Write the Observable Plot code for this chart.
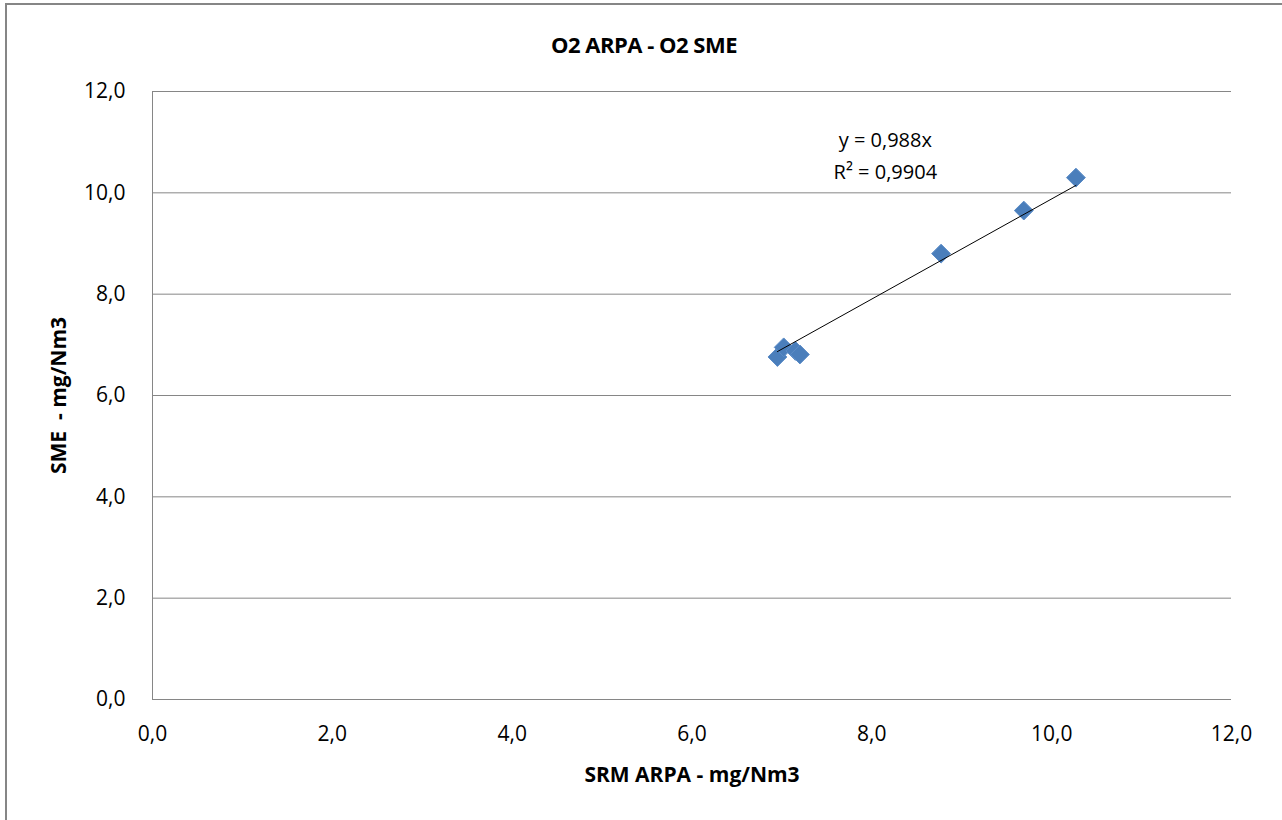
<!DOCTYPE html>
<html>
<head>
<meta charset="utf-8">
<script src="https://cdn.jsdelivr.net/npm/d3@7"></script>
<script src="https://cdn.jsdelivr.net/npm/@observablehq/plot@0.6"></script>
<style>
  html, body { margin: 0; padding: 0; background: #fff; overflow: hidden; }
  #wrap { position: relative; width: 1282px; height: 820px; }
  #frame { position: absolute; left: 5px; top: 3px; width: 1400px; height: 1000px;
           border-left: 2px solid #868686; border-top: 2px solid #868686; box-sizing: border-box; }
  #title { position: absolute; left: 0; width: 1288px; top: 29px; text-align: center;
           font-family: "Open Sans", sans-serif; font-weight: bold; font-size: 22px; letter-spacing: -0.5px; color: #000; }
  #chart { position: absolute; left: 0; top: 0; }
</style>
</head>
<body>
<div id="wrap">
  <div id="frame"></div>
  <div id="chart"></div>
  <div id="title">O2 ARPA - O2 SME</div>
</div>
<script>
const srmArpa = [6.95, 7.02, 7.15, 7.20, 8.77, 9.69, 10.27];
const sme     = [6.76, 6.95, 6.88, 6.81, 8.80, 9.65, 10.30];
const slope = 0.988;
const equationText = ["y = 0,988x", "R² = 0,9904"];
const equationX = [8.15, 8.15];
const equationY = [11.03, 10.40];
const tickValues = [0, 2, 4, 6, 8, 10, 12];
const xLabel = "SRM ARPA - mg/Nm3";
const yLabel = "SME  - mg/Nm3";

const points = srmArpa.map((x, i) => ({x, y: sme[i]}));
const xmin = d3.min(srmArpa), xmax = d3.max(srmArpa);
const trend = [xmin, xmax].map(x => ({x, y: slope * x}));
const notes = equationText.map((t, i) => ({t, x: equationX[i], y: equationY[i]}));
const fmt = d => d3.format(".1f")(d).replace(".", ",");

const chart = Plot.plot({
  width: 1282,
  height: 820,
  marginLeft: 152,
  marginRight: 51,
  marginTop: 91,
  marginBottom: 121,
  style: { fontFamily: "'Open Sans', sans-serif", fontSize: "21px", color: "#000", background: "transparent" },
  x: { domain: [0, 12], ticks: tickValues, tickFormat: fmt, label: null },
  y: { domain: [0, 12], ticks: tickValues, tickFormat: fmt, label: null },
  marks: [
    Plot.gridY(tickValues, { stroke: "#868686", strokeOpacity: 1, strokeWidth: 1 }),
    Plot.ruleX([0], { stroke: "#868686", strokeWidth: 1 }),
    Plot.axisY({ ticks: tickValues, tickFormat: fmt, tickSize: 0, tickPadding: 27, fontSize: 21 }),
    Plot.axisX({ ticks: tickValues, tickFormat: fmt, tickSize: 0, tickPadding: 27, fontSize: 21 }),
    Plot.axisX({ ticks: [], label: xLabel, labelAnchor: "center", labelArrow: "none", labelOffset: 82, fontSize: 21, fontWeight: "bold" }),
    Plot.axisY({ ticks: [], label: yLabel, labelAnchor: "center", labelArrow: "none", labelOffset: 101, fontSize: 21, fontWeight: "bold" }),
    Plot.dot(points, { x: "x", y: "y", symbol: "diamond2", r: 8.5, fill: "#4a7ebb", stroke: "#5b8cc7", strokeWidth: 1 }),
    Plot.line(trend, { x: "x", y: "y", stroke: "#000", strokeWidth: 1 }),
    Plot.text(notes, { x: "x", y: "y", text: "t", fontSize: 20, fill: "#000", textAnchor: "middle" })
  ]
});
document.getElementById("chart").appendChild(chart);
</script>
</body>
</html>
